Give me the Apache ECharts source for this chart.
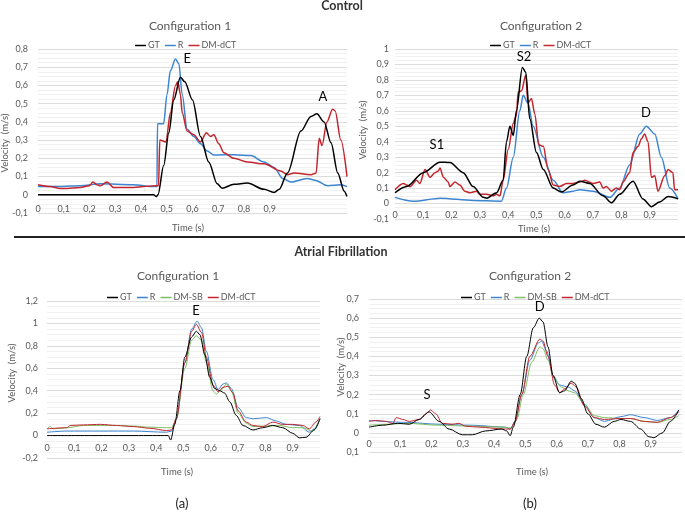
<!DOCTYPE html>
<html>
<head>
<meta charset="utf-8">
<script src="https://cdn.jsdelivr.net/npm/echarts@6/dist/echarts.min.js"></script>
<style>
  html, body { margin: 0; padding: 0; background: #fff; }
  #main { width: 685px; height: 518px; }
</style>
</head>
<body>
<div id="main"></div>
<script>
// Control - configuration 1  ([time, velocity])
var ctrl1GT = [[0,0],[0.449,0],[0.46,-0.01],[0.466,0],[0.488,0.16],[0.508,0.34],[0.527,0.52],[0.553,0.645],[0.57,0.62],[0.6,0.52],[0.631,0.32],[0.663,0.18],[0.696,0.06],[0.715,0.036],[0.761,0.058],[0.813,0.064],[0.878,0.03],[0.917,0.013],[0.937,0.03],[0.969,0.12],[1.021,0.35],[1.06,0.43],[1.083,0.445],[1.111,0.4],[1.138,0.285],[1.164,0.12],[1.189,0.02],[1.2,-0.01]];
var ctrl1R = [[0,0.045],[0.086,0.045],[0.164,0.05],[0.242,0.06],[0.371,0.055],[0.449,0.045],[0.462,0.045],[0.464,0.39],[0.488,0.39],[0.501,0.55],[0.514,0.68],[0.534,0.745],[0.547,0.72],[0.56,0.55],[0.579,0.36],[0.605,0.32],[0.631,0.28],[0.657,0.24],[0.683,0.218],[0.761,0.22],[0.826,0.215],[0.878,0.18],[0.917,0.15],[0.95,0.09],[0.982,0.07],[1.047,0.09],[1.075,0.08],[1.125,0.05],[1.176,0.055],[1.2,0.045]];
var ctrl1DM = [[0,0.055],[0.047,0.045],[0.086,0.035],[0.112,0.035],[0.164,0.04],[0.2,0.05],[0.213,0.07],[0.23,0.055],[0.242,0.05],[0.268,0.07],[0.293,0.04],[0.371,0.04],[0.41,0.045],[0.456,0.05],[0.468,0.05],[0.473,0.3],[0.497,0.29],[0.514,0.45],[0.534,0.6],[0.543,0.62],[0.553,0.55],[0.56,0.45],[0.579,0.35],[0.605,0.33],[0.631,0.29],[0.654,0.34],[0.67,0.32],[0.683,0.33],[0.702,0.28],[0.722,0.23],[0.761,0.2],[0.813,0.18],[0.878,0.17],[0.943,0.13],[0.969,0.11],[0.995,0.12],[1.06,0.11],[1.08,0.12],[1.092,0.31],[1.103,0.27],[1.122,0.4],[1.144,0.47],[1.154,0.46],[1.176,0.3],[1.2,0.1]];

// Control - configuration 2
var ctrl2GT = [[0,0.07],[0.041,0.11],[0.1,0.2],[0.159,0.268],[0.194,0.265],[0.241,0.2],[0.276,0.11],[0.312,0.04],[0.324,0.035],[0.359,0.07],[0.382,0.15],[0.394,0.4],[0.406,0.5],[0.418,0.44],[0.429,0.6],[0.45,0.88],[0.462,0.85],[0.476,0.55],[0.5,0.33],[0.524,0.22],[0.559,0.1],[0.588,0.075],[0.629,0.12],[0.653,0.145],[0.688,0.13],[0.735,0.05],[0.765,0.005],[0.794,0.06],[0.841,0.145],[0.876,0.03],[0.906,-0.02],[0.935,0.01],[0.965,0.045],[1.0,0.03]];
var ctrl2R = [[0,0.04],[0.065,0.015],[0.16,0.035],[0.276,0.02],[0.376,0.015],[0.394,0.1],[0.418,0.3],[0.441,0.6],[0.453,0.7],[0.47,0.65],[0.488,0.5],[0.524,0.3],[0.559,0.15],[0.594,0.07],[0.629,0.08],[0.653,0.09],[0.7,0.08],[0.759,0.04],[0.794,0.1],[0.829,0.25],[0.865,0.45],[0.888,0.5],[0.918,0.45],[0.941,0.3],[0.971,0.1],[1.0,0.03]];
var ctrl2DM = [[0,0.09],[0.03,0.13],[0.041,0.12],[0.053,0.11],[0.076,0.15],[0.088,0.13],[0.106,0.22],[0.124,0.17],[0.141,0.2],[0.153,0.21],[0.159,0.23],[0.171,0.17],[0.188,0.14],[0.194,0.11],[0.212,0.14],[0.229,0.12],[0.247,0.08],[0.265,0.07],[0.288,0.08],[0.3,0.06],[0.324,0.06],[0.347,0.05],[0.359,0.06],[0.371,0.05],[0.382,0.15],[0.4,0.35],[0.418,0.52],[0.429,0.57],[0.435,0.72],[0.447,0.73],[0.462,0.83],[0.47,0.65],[0.482,0.68],[0.494,0.58],[0.508,0.38],[0.524,0.37],[0.541,0.22],[0.559,0.12],[0.582,0.11],[0.606,0.13],[0.629,0.13],[0.653,0.14],[0.671,0.15],[0.7,0.13],[0.724,0.14],[0.735,0.1],[0.747,0.11],[0.765,0.08],[0.782,0.1],[0.794,0.09],[0.806,0.14],[0.829,0.2],[0.841,0.33],[0.859,0.37],[0.871,0.42],[0.882,0.45],[0.894,0.4],[0.906,0.17],[0.918,0.18],[0.929,0.08],[0.953,0.18],[0.965,0.22],[0.982,0.2],[0.988,0.09],[1.0,0.09]];

// Atrial fibrillation - configuration 1
var af1GT = [[0,0],[0.444,0],[0.453,-0.04],[0.468,0.1],[0.487,0.4],[0.505,0.7],[0.53,0.88],[0.547,0.93],[0.56,0.9],[0.578,0.72],[0.596,0.52],[0.614,0.42],[0.633,0.4],[0.65,0.38],[0.67,0.3],[0.693,0.18],[0.718,0.09],[0.754,0.05],[0.79,0.07],[0.827,0.09],[0.864,0.07],[0.9,0.02],[0.925,-0.02],[0.949,-0.015],[0.979,0.05],[1.0,0.15]];
var af1R = [[0,0.03],[0.073,0.04],[0.316,0.04],[0.438,0.03],[0.456,0.04],[0.474,0.15],[0.505,0.65],[0.53,0.95],[0.55,1.02],[0.566,0.96],[0.584,0.75],[0.608,0.5],[0.627,0.41],[0.645,0.46],[0.657,0.47],[0.675,0.42],[0.7,0.25],[0.73,0.16],[0.754,0.15],[0.803,0.16],[0.84,0.13],[0.876,0.1],[0.925,0.09],[0.961,0.03],[0.979,0.06],[1.0,0.15]];
var af1SB = [[0,0.06],[0.012,0.08],[0.024,0.06],[0.073,0.07],[0.134,0.09],[0.195,0.09],[0.255,0.09],[0.316,0.085],[0.377,0.075],[0.438,0.07],[0.456,0.07],[0.474,0.15],[0.505,0.6],[0.53,0.85],[0.547,0.89],[0.566,0.85],[0.584,0.65],[0.608,0.4],[0.62,0.37],[0.639,0.41],[0.657,0.46],[0.675,0.4],[0.7,0.2],[0.73,0.11],[0.754,0.08],[0.803,0.085],[0.852,0.09],[0.9,0.07],[0.937,0.07],[0.973,0.04],[1.0,0.15]];
var af1DM = [[0,0.06],[0.073,0.07],[0.085,0.09],[0.134,0.095],[0.195,0.1],[0.255,0.09],[0.316,0.08],[0.377,0.065],[0.438,0.045],[0.456,0.05],[0.474,0.15],[0.505,0.65],[0.53,0.93],[0.547,0.99],[0.566,0.92],[0.584,0.7],[0.608,0.45],[0.627,0.39],[0.645,0.43],[0.663,0.44],[0.681,0.38],[0.7,0.22],[0.73,0.12],[0.754,0.09],[0.79,0.08],[0.827,0.12],[0.864,0.1],[0.9,0.1],[0.937,0.09],[0.961,0.06],[0.985,0.12],[1.0,0.17]];

// Atrial fibrillation - configuration 2
var af2GT = [[0,0.03],[0.044,0.04],[0.092,0.05],[0.129,0.045],[0.16,0.07],[0.192,0.11],[0.224,0.06],[0.256,0.02],[0.298,-0.01],[0.33,-0.01],[0.372,0.01],[0.424,0.02],[0.44,0.01],[0.451,-0.015],[0.461,0.03],[0.483,0.2],[0.504,0.4],[0.525,0.55],[0.544,0.6],[0.556,0.58],[0.572,0.45],[0.588,0.3],[0.609,0.21],[0.625,0.22],[0.646,0.27],[0.657,0.26],[0.678,0.18],[0.699,0.1],[0.725,0.045],[0.752,0.03],[0.783,0.06],[0.805,0.07],[0.836,0.06],[0.868,0.02],[0.894,-0.02],[0.91,-0.025],[0.937,0],[0.963,0.06],[0.99,0.12]];
var af2R = [[0,0.065],[0.118,0.055],[0.224,0.045],[0.33,0.04],[0.435,0.03],[0.451,0.02],[0.467,0.06],[0.488,0.2],[0.514,0.38],[0.541,0.47],[0.551,0.48],[0.567,0.43],[0.588,0.3],[0.609,0.25],[0.636,0.24],[0.657,0.22],[0.688,0.15],[0.72,0.08],[0.752,0.06],[0.805,0.085],[0.836,0.095],[0.879,0.08],[0.921,0.065],[0.963,0.08],[0.99,0.12]];
var af2SB = [[0,0.04],[0.065,0.045],[0.118,0.05],[0.224,0.04],[0.33,0.035],[0.435,0.03],[0.456,0.025],[0.472,0.07],[0.493,0.2],[0.52,0.37],[0.546,0.45],[0.556,0.44],[0.572,0.38],[0.593,0.28],[0.614,0.24],[0.636,0.22],[0.657,0.21],[0.688,0.15],[0.72,0.09],[0.752,0.08],[0.805,0.075],[0.836,0.075],[0.879,0.06],[0.921,0.055],[0.963,0.07],[0.99,0.09]];
var af2DM = [[0,0.06],[0.023,0.065],[0.055,0.06],[0.076,0.05],[0.087,0.08],[0.108,0.07],[0.129,0.06],[0.16,0.07],[0.182,0.1],[0.197,0.12],[0.213,0.1],[0.234,0.05],[0.266,0.045],[0.287,0.05],[0.308,0.035],[0.351,0.03],[0.435,0.02],[0.451,0.02],[0.467,0.06],[0.488,0.2],[0.514,0.4],[0.546,0.49],[0.556,0.48],[0.572,0.4],[0.593,0.25],[0.609,0.21],[0.625,0.23],[0.646,0.26],[0.662,0.24],[0.688,0.14],[0.72,0.08],[0.752,0.07],[0.805,0.075],[0.836,0.075],[0.879,0.06],[0.921,0.055],[0.963,0.08],[0.99,0.11]];

// peak labels [name, time, velocity]
var ctrl1Peaks = [['E', 0.58, 0.747], ['A', 1.106, 0.54]];
var ctrl2Peaks = [['S1', 0.148, 0.377], ['S2', 0.456, 0.947], ['D', 0.887, 0.584]];
var af1Peaks = [['E', 0.546, 1.11]];
var af2Peaks = [['S', 0.185, 0.197], ['D', 0.545, 0.658]];

var xTicks = ['0', '0,1', '0,2', '0,3', '0,4', '0,5', '0,6', '0,7', '0,8', '0,9'];

var cGT = '#000000', cR = '#3d85d1', cSB = '#7cbf62', cDM = '#c3262e';
var gray = '#595959';
var font = 'Lato, "Liberation Sans", sans-serif';

var chart = echarts.init(document.getElementById('main'));

// x labels sit just under the zero line, so the axis is lifted with a negative offset
function xAx(idx, max, offset, margin) {
  return {
    type: 'value', gridIndex: idx, min: 0, max: max, interval: 0.1,
    position: 'bottom', offset: offset,
    axisLine: { show: false, onZero: false },
    axisTick: { show: false },
    splitLine: { show: false },
    axisLabel: {
      color: gray, fontSize: 9, fontFamily: font, margin: margin,
      formatter: function (v) {
        var i = Math.round(v * 10);
        return i < xTicks.length ? xTicks[i] : '';
      }
    }
  };
}
function yAx(idx, min, max, step, margin, noMinus) {
  return {
    type: 'value', gridIndex: idx, min: min, max: max, interval: step,
    axisLine: { show: false }, axisTick: { show: false },
    splitLine: { lineStyle: { color: '#dcdcdc', width: 1 } },
    minorTick: { show: false, splitNumber: 4 },
    minorSplitLine: { show: true, lineStyle: { color: '#f1f1f1', width: 1 } },
    axisLabel: {
      color: gray, fontSize: 9, fontFamily: font, margin: margin,
      formatter: function (v) {
        var s = String(+v.toFixed(2)).replace('.', ',');
        if (noMinus) s = s.replace('-', '');
        return s;
      }
    }
  };
}
function line(name, data, color, idx, width, peaks) {
  var s = {
    type: 'line', name: name, data: data, xAxisIndex: idx, yAxisIndex: idx,
    showSymbol: false, symbol: 'none', smooth: 0.3, smoothMonotone: 'x',
    lineStyle: { color: color, width: width }, itemStyle: { color: color },
    z: name === 'GT' ? 4 : 3
  };
  if (peaks) {
    s.markPoint = {
      symbol: 'circle', symbolSize: 0, silent: true,
      label: { show: true, position: 'inside', color: '#000', fontSize: 13, fontFamily: font, formatter: '{b}' },
      data: peaks.map(function (p) { return { name: p[0], coord: [p[1], p[2]] }; })
    };
  }
  return s;
}
function legend(left, top, names) {
  return {
    left: left, top: top, data: names, icon: 'rect', itemWidth: 11, itemHeight: 1.5,
    itemGap: 5, selectedMode: false,
    textStyle: { color: gray, fontSize: 9, fontFamily: font, padding: [0, 0, 0, -3] }
  };
}
function panelTitle(text, x, y) {
  return { text: text, left: x, top: y, textAlign: 'center',
    textStyle: { color: gray, fontSize: 12, fontWeight: 'normal', fontFamily: font } };
}
function txt(text, x, y, size, rot, bold, color) {
  return { type: 'text', x: x, y: y, rotation: rot || 0,
    style: { text: text, align: 'center', verticalAlign: 'middle', fill: color || gray,
      font: (bold ? 'bold ' : '') + size + 'px ' + font } };
}

var option = {
  animation: false,
  backgroundColor: '#fff',
  title: [
    panelTitle('Configuration 1', 185, 15),
    panelTitle('Configuration 2', 536, 15),
    panelTitle('Configuration 1', 173, 265),
    panelTitle('Configuration 2', 525, 265)
  ],
  legend: [
    legend(130, 36, ['GT', 'R', 'DM-dCT']),
    legend(485, 36, ['GT', 'R', 'DM-dCT']),
    legend(102, 288, ['GT', 'R', 'DM-SB', 'DM-dCT']),
    legend(456, 288, ['GT', 'R', 'DM-SB', 'DM-dCT'])
  ],
  grid: [
    { left: 38, top: 49, width: 309, height: 164 },
    { left: 395, top: 49, width: 283, height: 170 },
    { left: 47, top: 301, width: 273, height: 157 },
    { left: 369, top: 299, width: 314, height: 153 }
  ],
  xAxis: [xAx(0, 1.2, -18.2, 10), xAx(1, 1, -15.5, 7), xAx(2, 1, -22.4, 8), xAx(3, 1, -19.1, 7)],
  yAxis: [
    yAx(0, -0.1, 0.8, 0.1, 10),
    yAx(1, -0.1, 1, 0.1, 6),
    yAx(2, -0.2, 1.2, 0.2, 9),
    yAx(3, -0.1, 0.7, 0.1, 10, true)
  ],
  series: [
    line('R', ctrl1R, cR, 0, 1.5),
    line('DM-dCT', ctrl1DM, cDM, 0, 1.5),
    line('GT', ctrl1GT, cGT, 0, 1.5, ctrl1Peaks),
    line('R', ctrl2R, cR, 1, 1.5),
    line('DM-dCT', ctrl2DM, cDM, 1, 1.5),
    line('GT', ctrl2GT, cGT, 1, 1.5, ctrl2Peaks),
    line('R', af1R, cR, 2, 1),
    line('DM-SB', af1SB, cSB, 2, 1),
    line('DM-dCT', af1DM, cDM, 2, 1),
    line('GT', af1GT, cGT, 2, 1, af1Peaks),
    line('R', af2R, cR, 3, 1),
    line('DM-SB', af2SB, cSB, 3, 1),
    line('DM-dCT', af2DM, cDM, 3, 1),
    line('GT', af2GT, cGT, 3, 1, af2Peaks)
  ],
  graphic: [
    txt('Control', 342, 6, 12.5, 0, true, '#333'),
    txt('Atrial Fibrillation', 341, 252, 12.5, 0, true, '#333'),
    { type: 'line', shape: { x1: 14, y1: 237, x2: 685, y2: 237 }, style: { stroke: '#222', lineWidth: 2 } },
    txt('Velocity  (m/s)', 5, 143, 9.5, Math.PI / 2),
    txt('Velocity  (m/s)', 363, 130, 9.5, Math.PI / 2),
    txt('Velocity  (m/s)', 12, 373, 9.5, Math.PI / 2),
    txt('Velocity  (m/s)', 341, 367, 9.5, Math.PI / 2),
    txt('Time (s)', 188, 228, 9.5),
    txt('Time (s)', 534, 229, 9.5),
    txt('Time (s)', 177, 472, 9.5),
    txt('Time (s)', 532, 472, 9.5),
    txt('(a)', 182, 504, 13, 0, false, '#222'),
    txt('(b)', 530, 504, 13, 0, false, '#222')
  ]
};
chart.setOption(option);
</script>
</body>
</html>
